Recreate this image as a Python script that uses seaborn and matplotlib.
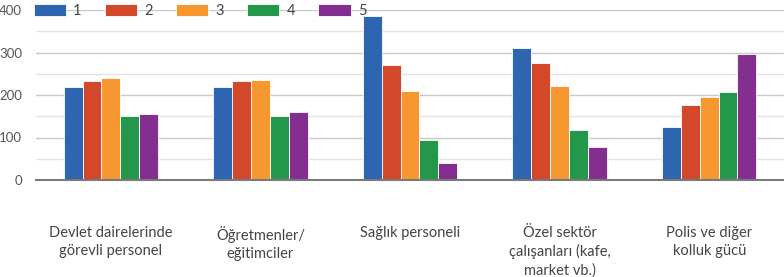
import pandas as pd
import seaborn as sns
import matplotlib.pyplot as plt
from matplotlib.ticker import MultipleLocator

# Kategoriler ve seriler
categories = ['Devlet dairelerinde\ngörevli personel', 'Öğretmenler/\neğitimciler',
              'Sağlık personeli', 'Özel sektör\nçalışanları (kafe,\nmarket vb.)',
              'Polis ve diğer\nkolluk gücü']
series = ['1', '2', '3', '4', '5']
s1 = [220, 218, 387, 311, 125]
s2 = [234, 234, 270, 275, 177]
s3 = [240, 235, 209, 222, 195]
s4 = [150, 150, 94, 118, 206]
s5 = [156, 161, 40, 78, 297]

colors = ['#2e65b0', '#d3472a', '#f6982f', '#23974a', '#842e90']

rows = []
for name, vals in zip(series, [s1, s2, s3, s4, s5]):
    for cat, v in zip(categories, vals):
        rows.append({'kategori': cat, 'seri': name, 'deger': v})
df = pd.DataFrame(rows)

sns.set_style('white')
plt.rcParams['font.family'] = ['Lato', 'DejaVu Sans']

fig = plt.figure(figsize=(7.84, 2.77), dpi=100)
ax = fig.add_axes([36 / 784, 1 - 180 / 277, 748 / 784, 170 / 277])

sns.barplot(data=df, x='kategori', y='deger', hue='seri', palette=colors,
            saturation=1, width=0.63, edgecolor='white', linewidth=0.6, ax=ax)

ax.set_ylim(0, 400)
ax.set_xlim(-0.5, 4.5)
ax.yaxis.set_major_locator(MultipleLocator(100))
ax.yaxis.set_minor_locator(MultipleLocator(50))
ax.grid(axis='y', which='major', color='#c8c8c8', linewidth=1)
ax.grid(axis='y', which='minor', color='#e4e4e4', linewidth=1)
ax.set_axisbelow(True)
for side in ['top', 'right', 'left']:
    ax.spines[side].set_visible(False)
ax.spines['bottom'].set_color('#7a7a7a')
ax.spines['bottom'].set_linewidth(1.5)

ax.set_xlabel('')
ax.set_ylabel('')
ax.tick_params(axis='y', which='both', length=0, labelsize=9.5, labelcolor='#555555', pad=10)
ax.tick_params(axis='x', length=0, labelsize=10.5, labelcolor='#444444', pad=33)
for lbl in ax.get_xticklabels():
    lbl.set_linespacing(1.35)
    lbl.set_verticalalignment('top')

ax.legend(loc='upper left', bbox_to_anchor=(-0.011, 1.07), ncol=5, frameon=False,
          handlelength=2.2, handleheight=0.9, handletextpad=0.5, columnspacing=1.6,
          fontsize=10.5, labelcolor='#444444', borderaxespad=0)

fig.savefig('out.png', dpi=100)
